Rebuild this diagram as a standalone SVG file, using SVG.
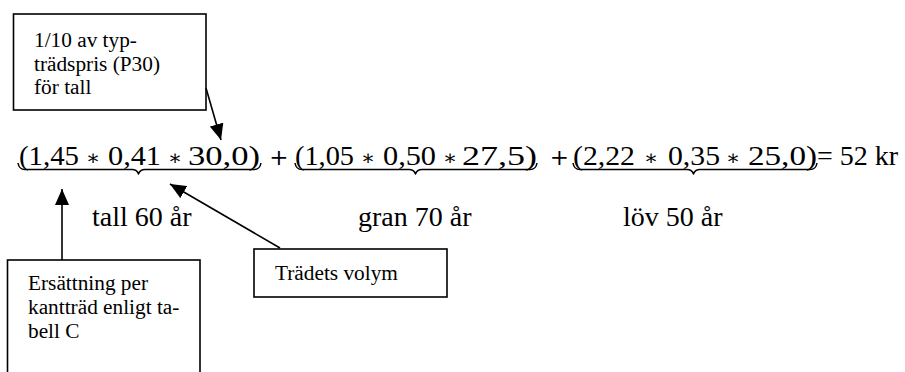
<svg xmlns="http://www.w3.org/2000/svg" width="905" height="372" viewBox="0 0 905 372">
<style>
.box{fill:#fff;stroke:#000;stroke-width:1.6}
.bt{font-family:"Liberation Serif","Times New Roman",serif;font-size:21.3px;fill:#000}
.lbl{font-family:"Liberation Serif","Times New Roman",serif;font-size:28px;fill:#000}
.math{font-family:"Liberation Serif","DejaVu Serif",serif;font-size:28px;fill:#000}
.op{font-family:"DejaVu Serif","Liberation Serif",serif;font-size:21px;fill:#000;text-anchor:middle}
.plus{font-family:"DejaVu Serif","Liberation Serif",serif;font-size:23px;fill:#000;text-anchor:middle}
.brace{fill:none;stroke:#000;stroke-width:1.5;stroke-linejoin:round}
.conn{fill:none;stroke:#000;stroke-width:1.6}
</style>
<defs>
<marker id="ah" viewBox="0 0 16 14" refX="16" refY="7" markerWidth="16" markerHeight="14" markerUnits="userSpaceOnUse" orient="auto">
<path d="M0,0 L16,7 L0,14 z" fill="#000"/>
</marker>
</defs>
<rect width="905" height="372" fill="#fff"/>

<g id="formula">
<text class="math" x="19" y="165" textLength="60" lengthAdjust="spacingAndGlyphs">(1,45</text>
<text class="op" x="93" y="165">∗</text>
<text class="math" x="108" y="165" textLength="53" lengthAdjust="spacingAndGlyphs">0,41</text>
<text class="op" x="175" y="165">∗</text>
<text class="math" x="188" y="165" textLength="72" lengthAdjust="spacingAndGlyphs">30,0)</text>
<text class="plus" x="279" y="165">+</text>
<text class="math" x="295" y="165" textLength="59" lengthAdjust="spacingAndGlyphs">(1,05</text>
<text class="op" x="368" y="165">∗</text>
<text class="math" x="383" y="165" textLength="53" lengthAdjust="spacingAndGlyphs">0,50</text>
<text class="op" x="450" y="165">∗</text>
<text class="math" x="462" y="165" textLength="75" lengthAdjust="spacingAndGlyphs">27,5)</text>
<text class="plus" x="559.5" y="165">+</text>
<text class="math" x="573" y="165" textLength="62" lengthAdjust="spacingAndGlyphs">(2,22</text>
<text class="op" x="651" y="165">∗</text>
<text class="math" x="668" y="165" textLength="52" lengthAdjust="spacingAndGlyphs">0,35</text>
<text class="op" x="733" y="165">∗</text>
<text class="math" x="748" y="165" textLength="69" lengthAdjust="spacingAndGlyphs">25,0)</text>
<text class="lbl" x="817" y="165">= 52 kr</text>
<path class="brace" d="M18,163 Q19,169.5 25,169.5 L132,169.5 Q137,169.5 138.5,174 Q140,169.5 145,169.5 L254,169.5 Q260,169.5 261,163"/>
<path class="brace" d="M295,163 Q296,169.5 302,169.5 L409,169.5 Q414,169.5 415.5,174 Q417,169.5 422,169.5 L530,169.5 Q536,169.5 537,163"/>
<path class="brace" d="M573,163 Q574,169.5 580,169.5 L687,169.5 Q692,169.5 693.5,174 Q695,169.5 700,169.5 L810,169.5 Q816,169.5 817,163"/>
</g>

<g id="labels">
<text class="lbl" x="92" y="226">tall 60 år</text>
<text class="lbl" x="358" y="226">gran 70 år</text>
<text class="lbl" x="623" y="226">löv 50 år</text>
</g>

<g id="box-price">
<rect class="box" x="13.5" y="14" width="192.5" height="96"/>
<text class="bt" x="34" y="47">1/10 av typ-</text>
<text class="bt" x="34" y="70.5">trädspris (P30)</text>
<text class="bt" x="34" y="93.5">för tall</text>
</g>

<g id="box-volym">
<rect class="box" x="254" y="249" width="193" height="48"/>
<text class="bt" x="275" y="280">Trädets volym</text>
</g>

<g id="box-ersattning">
<rect class="box" x="7.5" y="260" width="192.5" height="130"/>
<text class="bt" x="28" y="290">Ersättning per</text>
<text class="bt" x="28" y="314">kantträd enligt ta-</text>
<text class="bt" x="28" y="338">bell C</text>
</g>

<g id="connectors">
<line class="conn" x1="206" y1="88" x2="221" y2="140" marker-end="url(#ah)"/>
<line class="conn" x1="62" y1="260" x2="62" y2="189" marker-end="url(#ah)"/>
<line class="conn" x1="280" y1="248" x2="170" y2="184" marker-end="url(#ah)"/>
</g>
</svg>
